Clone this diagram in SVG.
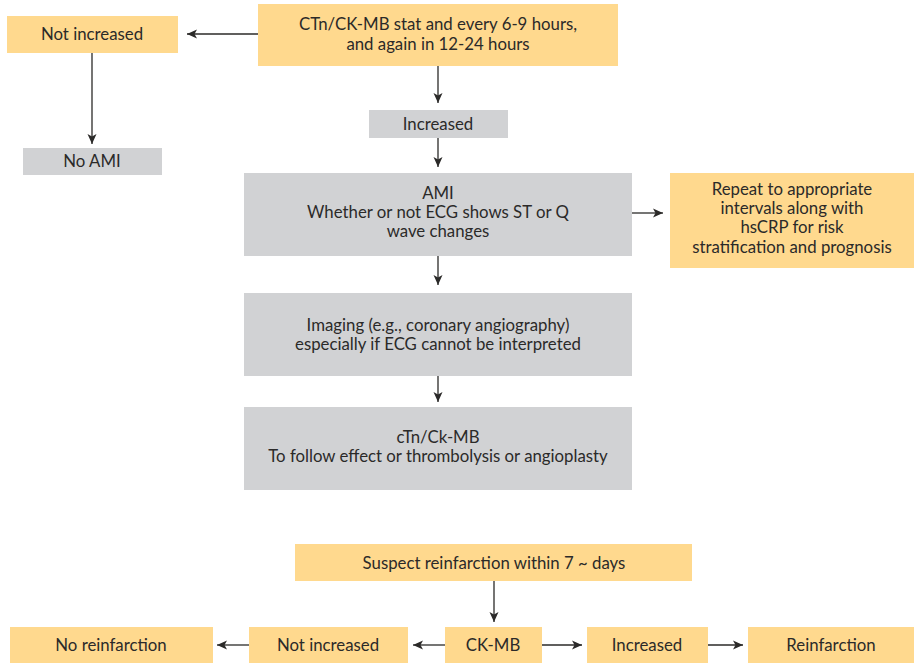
<svg xmlns="http://www.w3.org/2000/svg" width="914" height="663" viewBox="0 0 914 663">
<style>
.y{fill:#FFD98E}
.g{fill:#D1D2D4}
text{font-family:Lato,"Open Sans","Liberation Sans",sans-serif;font-size:16.8px;fill:#2B2A29;text-anchor:middle}
.c line{stroke:#2B2A29;stroke-width:1.3;marker-end:url(#a)}
</style>
<defs>
<marker id="a" viewBox="0 0 10 10" refX="10" refY="5" markerWidth="10" markerHeight="10" markerUnits="userSpaceOnUse" orient="auto">
<path d="M0,0.5 L10,5 L0,9.5 L2.5,5 Z" fill="#2B2A29"/>
</marker>
</defs>
<rect width="914" height="663" fill="#fff"/>
<g id="n-start"><rect class="y" x="258" y="4" width="360" height="62"/><text x="438" y="30">CTn/CK-MB stat and every 6-9 hours,</text><text x="438" y="50">and again in 12-24 hours</text></g>
<g id="n-notinc"><rect class="y" x="7" y="16" width="171" height="37"/><text x="92" y="40">Not increased</text></g>
<g id="n-noami"><rect class="g" x="23" y="148" width="139" height="27"/><text x="92" y="167">No AMI</text></g>
<g id="n-inc"><rect class="g" x="369" y="110" width="139" height="28"/><text x="438" y="130">Increased</text></g>
<g id="n-ami"><rect class="g" x="244" y="173" width="388" height="83"/><text x="438" y="199">AMI</text><text x="438" y="218">Whether or not ECG shows ST or Q</text><text x="438" y="237">wave changes</text></g>
<g id="n-repeat"><rect class="y" x="670" y="173" width="244" height="95"/><text x="792" y="195">Repeat to appropriate</text><text x="792" y="214">intervals along with</text><text x="792" y="233">hsCRP for risk</text><text x="792" y="252.5">stratification and prognosis</text></g>
<g id="n-imaging"><rect class="g" x="244" y="293" width="388" height="83"/><text x="438" y="331">Imaging (e.g., coronary angiography)</text><text x="438" y="350">especially if ECG cannot be interpreted</text></g>
<g id="n-ctn"><rect class="g" x="244" y="407" width="388" height="83"/><text x="438" y="443">cTn/Ck-MB</text><text x="438" y="462">To follow effect or thrombolysis or angioplasty</text></g>
<g id="n-suspect"><rect class="y" x="295" y="544" width="397" height="37"/><text x="494" y="569">Suspect reinfarction within 7 ~ days</text></g>
<g id="n-norein"><rect class="y" x="10" y="627" width="203" height="36"/><text x="111" y="651">No reinfarction</text></g>
<g id="n-notinc2"><rect class="y" x="249" y="627" width="159" height="36"/><text x="328" y="651">Not increased</text></g>
<g id="n-ckmb"><rect class="y" x="445" y="627" width="97" height="36"/><text x="493" y="651">CK-MB</text></g>
<g id="n-inc2"><rect class="y" x="587" y="627" width="121" height="36"/><text x="647" y="651">Increased</text></g>
<g id="n-rein"><rect class="y" x="748" y="627" width="166" height="36"/><text x="831" y="651">Reinfarction</text></g>
<g id="connectors" class="c">
<line x1="258" y1="34" x2="187" y2="34"/>
<line x1="92" y1="53" x2="92" y2="144"/>
<line x1="438" y1="66" x2="438" y2="103"/>
<line x1="438" y1="138" x2="438" y2="167"/>
<line x1="632" y1="213" x2="663" y2="213"/>
<line x1="438" y1="256" x2="438" y2="285"/>
<line x1="438" y1="376" x2="438" y2="402"/>
<line x1="494" y1="581" x2="494" y2="622"/>
<line x1="445" y1="645" x2="413" y2="645"/>
<line x1="249" y1="645" x2="217" y2="645"/>
<line x1="542" y1="645" x2="582" y2="645"/>
<line x1="708" y1="645" x2="743" y2="645"/>
</g>
</svg>
